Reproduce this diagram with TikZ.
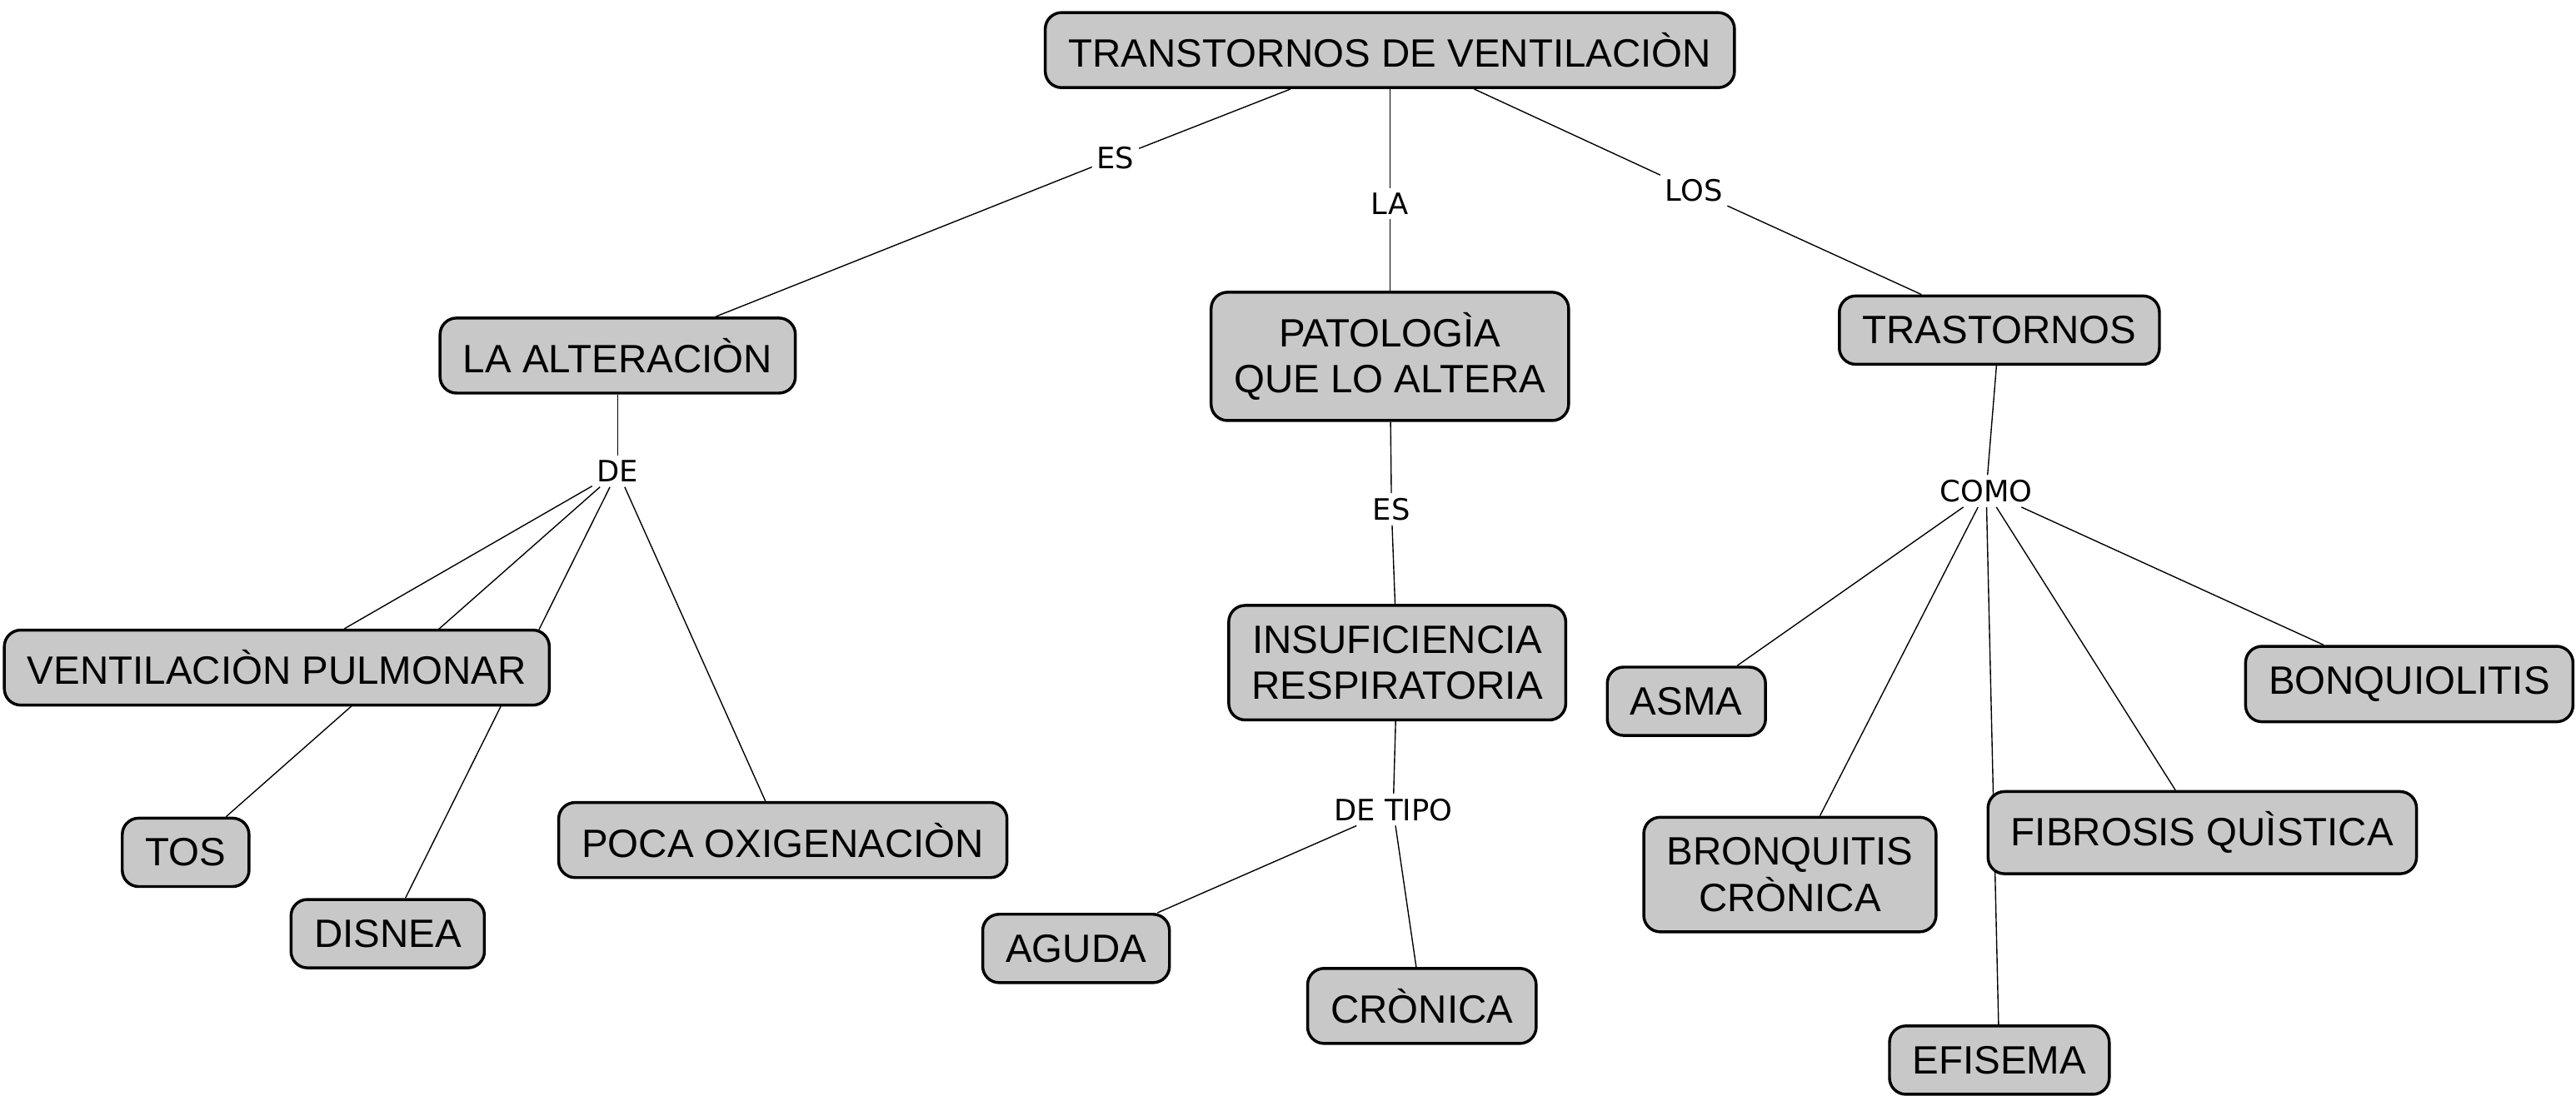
\documentclass[tikz,border=0pt]{standalone}
\usepackage{fontspec}
\setmainfont{Liberation Sans}
\newfontfamily\enlacefont{DejaVu Sans}
\usetikzlibrary{
		backgrounds
	}
\definecolor{grisCaja}{RGB}{200,200,200}
\tikzset{
		concepto/.style={draw, fill=grisCaja, rounded corners=0.2cm,
			line width=1pt, inner xsep=8pt, inner ysep=7pt, align=center,
			font=\fontsize{13.7}{16}\selectfont},
		enlace/.style={fill=white, inner sep=1.5pt,
			font=\enlacefont\fontsize{10.2}{12}\selectfont},
		union/.style={line width=1pt}
	}

\begin{document}
\begin{tikzpicture}[x=0.02cm, y=-0.02cm]
          \useasboundingbox (0,0) rectangle (1568,667);

          \node[concepto] (tv) at (846,30.5) {TRANSTORNOS DE VENTILACIÒN};
          \node[concepto] (alt) at (376,216.5) {LA ALTERACIÒN};
          \node[concepto] (pat) at (846,217) {PATOLOGÌA\\QUE LO ALTERA};
          \node[concepto] (tras) at (1217,201) {TRASTORNOS};
          \node[concepto] (vent) at (168.5,406.5) {VENTILACIÒN PULMONAR};
          \node[concepto] (tos) at (113,519) {TOS};
          \node[concepto] (disnea) at (236,568.5) {DISNEA};
          \node[concepto] (poca) at (476.5,511.5) {POCA OXIGENACIÒN};
          \node[concepto] (insuf) at (850.5,403.5) {INSUFICIENCIA\\RESPIRATORIA};
          \node[concepto] (aguda) at (655,577.5) {AGUDA};
          \node[concepto] (cronica) at (865.5,612.5) {CRÒNICA};
          \node[concepto] (asma) at (1026.5,427) {ASMA};
          \node[concepto] (bonq) at (1466.5,416.5) {BONQUIOLITIS};
          \node[concepto] (bronq) at (1089.5,532.5) {BRONQUITIS\\CRÒNICA};
          \node[concepto] (fibro) at (1340.5,507) {FIBROSIS QUÌSTICA};
          \node[concepto] (efis) at (1217,645.5) {EFISEMA};

          \node[enlace] (es1) at (679,96) {ES};
          \node[enlace] (la) at (846,124) {LA};
          \node[enlace] (los) at (1031,116) {LOS};
          \node[enlace] (de) at (376,287) {DE};
          \node[enlace] (es2) at (847,310) {ES};
          \node[enlace] (detipo) at (848,493) {DE TIPO};
          \node[enlace] (como) at (1209,299) {COMO};

          \begin{scope}[on background layer, union]
          \draw (tv) -- (es1) (es1) -- (alt);
          \draw (tv) -- (la) (la) -- (pat);
          \draw (tv) -- (los) (los) -- (tras);
          \draw (alt) -- (de);
          \foreach \hijo in {vent,tos,disnea,poca}
            \draw (de) -- (\hijo);
          \draw (pat) -- (es2) (es2) -- (insuf);
          \draw (insuf) -- (detipo);
          \draw (detipo) -- (aguda) (detipo) -- (cronica);
          \draw (tras) -- (como);
          \foreach \hijo in {asma,bronq,efis,fibro,bonq}
            \draw (como) -- (\hijo);
          \end{scope}

\end{tikzpicture}
\end{document}
